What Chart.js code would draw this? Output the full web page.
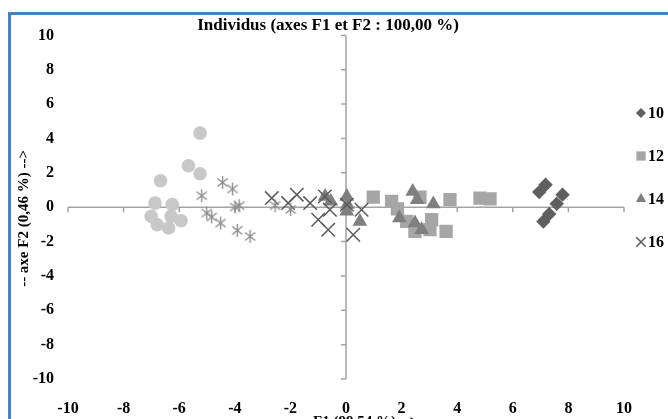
<!DOCTYPE html>
<html>
<head>
<meta charset="utf-8">
<script src="https://cdn.jsdelivr.net/npm/chart.js@4.4.1/dist/chart.umd.min.js"></script>
<style>
  html, body { margin: 0; padding: 0; background: #fff; overflow: hidden; }
  #wrap { position: relative; width: 668px; height: 419px; overflow: hidden; }
  .frame { position: absolute; left: 8px; top: 12px; width: 1000px; height: 1000px;
           border-left: 3px solid #4f81bd; border-top: 3px solid #4f81bd; }
  #acp { position: absolute; left: 0; top: 0; }
</style>
</head>
<body>
<div id="wrap">
  <div class="frame"></div>
  <canvas id="acp" width="668" height="419"></canvas>
</div>
<script>
// Coordonnées des individus sur F1 / F2, par groupe
const seriesNames = ["10", "12", "14", "16", "18", "20"]

const f1_10 = [6.95, 7.18, 7.79, 7.58, 7.31, 7.10]
const f2_10 = [0.88, 1.31, 0.73, 0.20, -0.40, -0.83]

const f1_12 = [0.98, 1.64, 1.85, 2.18, 2.48, 2.66, 3.08, 3.02, 3.60, 3.74, 4.82, 5.18]
const f2_12 = [0.59, 0.34, -0.10, -0.83, -1.41, 0.58, -0.73, -1.31, -1.41, 0.44, 0.53, 0.48]

const f1_14 = [-0.75, -0.55, 0.03, 0.05, 0.03, 0.50, 2.40, 2.56, 3.14, 1.92, 2.48, 2.72]
const f2_14 = [0.63, 0.34, 0.63, 0.15, -0.24, -0.83, 0.92, 0.44, 0.19, -0.63, -0.92, -1.31]

const f1_16 = [-2.67, -1.77, -2.08, -1.29, -0.76, -0.58, -1.00, -0.64, 0.03, 0.56, 0.26]
const f2_16 = [0.53, 0.73, 0.24, 0.24, 0.63, -0.15, -0.73, -1.31, 0.15, -0.15, -1.60]

const f1_18 = [-5.19, -4.44, -4.08, -5.01, -4.83, -4.51, -3.99, -3.84, -3.91, -3.45, -2.55, -1.99]
const f2_18 = [0.67, 1.44, 1.06, -0.34, -0.57, -0.92, 0.01, 0.09, -1.35, -1.70, 0.09, -0.13]

const f1_20 = [-5.25, -5.67, -5.25, -6.67, -6.87, -6.25, -7.01, -6.29, -5.93, -6.79, -6.38]
const f2_20 = [4.31, 2.41, 1.95, 1.54, 0.24, 0.15, -0.53, -0.53, -0.79, -1.02, -1.21]

const axisTicks = [-10, -8, -6, -4, -2, 0, 2, 4, 6, 8, 10]
const legendCount = 4

const FONT = "'Liberation Serif', 'Times New Roman', serif"

function toPoints(xs, ys) {
  return xs.map((v, i) => ({ x: v, y: ys[i] }))
}

// marqueur astérisque (style Excel)
function asteriskMarker(size, color) {
  const c = document.createElement("canvas")
  c.width = size
  c.height = size
  const g = c.getContext("2d")
  const m = size / 2
  const r = size / 2 - 1
  const d = r * 0.78
  g.strokeStyle = color
  g.lineWidth = 1.4
  g.beginPath()
  g.moveTo(m, m - r); g.lineTo(m, m + r)
  g.moveTo(m - d, m - d * 0.8); g.lineTo(m + d, m + d * 0.8)
  g.moveTo(m - d, m + d * 0.8); g.lineTo(m + d, m - d * 0.8)
  g.stroke()
  return c
}

const styles = [
  { pointStyle: "rectRot", backgroundColor: "#5f5f5f", borderColor: "#5f5f5f", pointRadius: 7.2, borderWidth: 0 },
  { pointStyle: "rect", backgroundColor: "#a6a6a6", borderColor: "#a6a6a6", pointRadius: 9.4, borderWidth: 0 },
  { pointStyle: "triangle", backgroundColor: "#7f7f7f", borderColor: "#7f7f7f", pointRadius: 8.5, borderWidth: 0 },
  { pointStyle: "crossRot", backgroundColor: "#595959", borderColor: "#595959", pointRadius: 9.5, borderWidth: 1.5 },
  { pointStyle: asteriskMarker(15, "#8e8e8e"), backgroundColor: "#8e8e8e", borderColor: "#8e8e8e", pointRadius: 7, borderWidth: 1.4 },
  { pointStyle: "circle", backgroundColor: "#c8c8c8", borderColor: "#c8c8c8", pointRadius: 6.8, borderWidth: 0 },
]

const seriesData = [
  toPoints(f1_10, f2_10),
  toPoints(f1_12, f2_12),
  toPoints(f1_14, f2_14),
  toPoints(f1_16, f2_16),
  toPoints(f1_18, f2_18),
  toPoints(f1_20, f2_20),
]

const datasets = seriesNames.map((name, i) => ({
  label: name,
  data: seriesData[i],
  order: seriesNames.length - i,
  pointHoverRadius: styles[i].pointRadius,
  ...styles[i],
}))

/**
 * Axes qui se croisent en (0,0), avec graduations
 */
const crossAxes = {
  id: "crossAxes",
  beforeDatasetsDraw(chart) {
    const { ctx, scales: { x, y } } = chart
    const x0 = x.getPixelForValue(0)
    const y0 = y.getPixelForValue(0)
    ctx.save()
    ctx.strokeStyle = "#a3a3a3"
    ctx.lineWidth = 1.5
    ctx.beginPath()
    ctx.moveTo(x.left, y0)
    ctx.lineTo(x.right, y0)
    ctx.moveTo(x0, y.top)
    ctx.lineTo(x0, y.bottom)
    axisTicks.forEach((t) => {
      const px = x.getPixelForValue(t)
      ctx.moveTo(px, y0)
      ctx.lineTo(px, y0 + 5)
      const py = y.getPixelForValue(t)
      ctx.moveTo(x0, py)
      ctx.lineTo(x0 - 5, py)
    })
    ctx.stroke()
    ctx.restore()
  },
}

/**
 * Légende à droite (4 premières séries seulement)
 */
const sideLegend = {
  id: "sideLegend",
  afterDraw(chart, args, opts) {
    const { ctx } = chart
    chart.data.datasets.slice(0, legendCount).forEach((ds, i) => {
      const cx = opts.x
      const cy = opts.y + i * opts.spacing
      ctx.save()
      ctx.fillStyle = ds.backgroundColor
      ctx.strokeStyle = ds.borderColor
      ctx.lineWidth = ds.borderWidth || 1
      Chart.helpers.drawPoint(ctx, {
        pointStyle: ds.pointStyle,
        radius: ds.pointRadius * 0.7,
        borderWidth: ds.borderWidth,
        rotation: 0,
      }, cx, cy)
      ctx.fillStyle = "#000"
      ctx.font = "bold 16px " + FONT
      ctx.textBaseline = "middle"
      ctx.textAlign = "left"
      ctx.fillText(ds.label, cx + 7, cy + 1)
      ctx.restore()
    })
  },
}

new Chart(document.getElementById("acp"), {
  type: "scatter",
  data: { datasets },
  plugins: [crossAxes, sideLegend],
  options: {
    responsive: false,
    animation: false,
    events: [],
    layout: { padding: { left: 32, right: 44, top: 0, bottom: -12 } },
    plugins: {
      legend: { display: false },
      tooltip: { enabled: false },
      title: {
        display: true,
        text: "Individus (axes F1 et F2 : 100,00 %)",
        color: "#000",
        font: { family: FONT, size: 17, weight: "bold", lineHeight: 1.2 },
        padding: { top: 15, bottom: 0 },
      },
      sideLegend: { x: 641, y: 113, spacing: 43 },
    },
    scales: {
      x: {
        type: "linear",
        min: -10,
        max: 10,
        afterBuildTicks: (scale) => { scale.ticks = axisTicks.map((v) => ({ value: v })) },
        afterFit: (scale) => { scale.height = 52 },
        grid: { display: false, drawTicks: false },
        border: { display: false },
        ticks: { color: "#000", padding: 20, font: { family: FONT, size: 16, weight: "bold" } },
        title: {
          display: true,
          text: "-- axe F1 (99,54 %) -->",
          color: "#000",
          font: { family: FONT, size: 15, weight: "bold" },
          padding: { top: 0, bottom: 0 },
        },
      },
      y: {
        type: "linear",
        min: -10,
        max: 10,
        afterBuildTicks: (scale) => { scale.ticks = axisTicks.map((v) => ({ value: v })) },
        afterFit: (scale) => { scale.width = 36 },
        grid: { display: false, drawTicks: false },
        border: { display: false },
        ticks: { color: "#000", padding: 14, font: { family: FONT, size: 16, weight: "bold" } },
        title: {
          display: true,
          // espaces finaux : décale le titre vers le bas comme dans Excel
          text: "-- axe F2 (0,46 %) -->      ",
          color: "#000",
          font: { family: FONT, size: 15, weight: "bold" },
          padding: { top: -17, bottom: 0 },
        },
      },
    },
  },
})
</script>
</body>
</html>
